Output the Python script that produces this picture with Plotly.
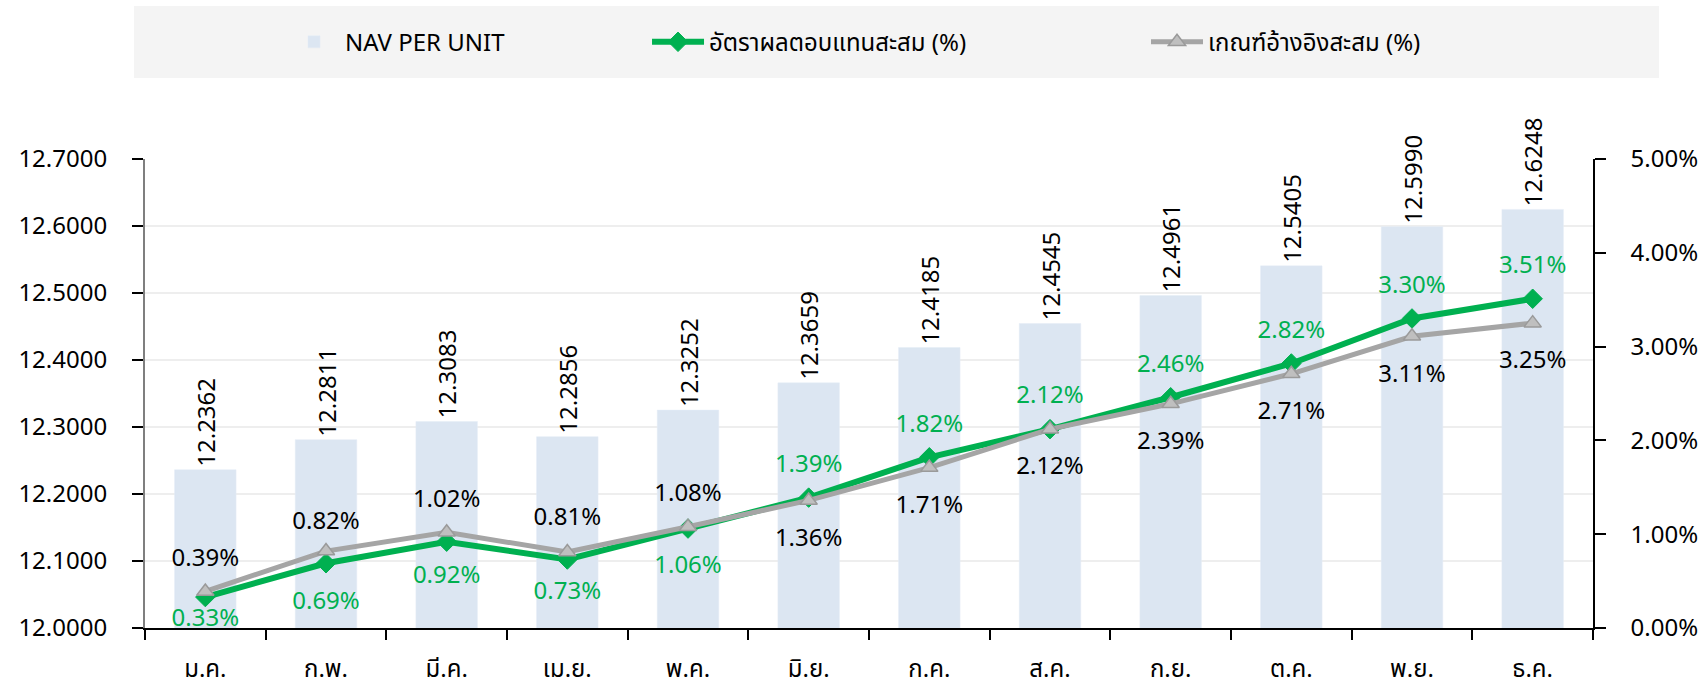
import plotly.graph_objects as go

# ---------------- data ----------------
months = ["ม.ค.", "ก.พ.", "มี.ค.", "เม.ย.", "พ.ค.", "มิ.ย.",
          "ก.ค.", "ส.ค.", "ก.ย.", "ต.ค.", "พ.ย.", "ธ.ค."]
nav_per_unit = [12.2362, 12.2811, 12.3083, 12.2856, 12.3252, 12.3659,
                12.4185, 12.4545, 12.4961, 12.5405, 12.5990, 12.6248]
fund_return = [0.33, 0.69, 0.92, 0.73, 1.06, 1.39, 1.82, 2.12, 2.46, 2.82, 3.30, 3.51]
benchmark_return = [0.39, 0.82, 1.02, 0.81, 1.08, 1.36, 1.71, 2.12, 2.39, 2.71, 3.11, 3.25]

nav_ticks = [12.0, 12.1, 12.2, 12.3, 12.4, 12.5, 12.6, 12.7]
pct_ticks = [0, 1, 2, 3, 4, 5]
pct_tick_labels = [f"{v:.2f}%" for v in pct_ticks]

name_nav = "NAV PER UNIT"
name_fund = "อัตราผลตอบแทนสะสม (%)"
name_bench = "เกณฑ์อ้างอิงสะสม (%)"

# ---------------- styles ----------------
FONT = "Noto Sans, Noto Sans Thai, Loma, sans-serif"
GREEN = "#00b050"
GREY = "#a5a5a5"
BAR = "#dce6f2"
FS = 24

fund_pos = ["bottom center"] * 5 + ["top center"] * 7
bench_pos = ["top center"] * 5 + ["bottom center"] * 7
fund_pad = [16, 42, 36, 32, 40] + [30] * 7
bench_pad = [30, 24, 30, 32, 30] + [42] * 7

fig = go.Figure()

fig.add_trace(go.Bar(
    x=months, y=nav_per_unit, name=name_nav, width=0.51,
    marker=dict(color=BAR),
    texttemplate="%{y:.4f}", textposition="outside", textangle=-90,
    textfont=dict(size=FS, color="black", family=FONT), constraintext="none",
    cliponaxis=False, legend="legend", yaxis="y",
))

fig.add_trace(go.Scatter(
    x=months, y=fund_return, name=name_fund, mode="lines+markers",
    line=dict(color=GREEN, width=6),
    marker=dict(symbol="diamond", size=15, color=GREEN, line=dict(color=GREEN, width=1)),
    yaxis="y2", legend="legend2", cliponaxis=False,
))
fig.add_trace(go.Scatter(
    x=months, y=benchmark_return, name=name_bench, mode="lines+markers",
    line=dict(color=GREY, width=5),
    marker=dict(symbol="triangle-up", size=15, color="#bfbfbf", line=dict(color="#9a9a9a", width=1.5)),
    yaxis="y2", legend="legend3", cliponaxis=False,
))

# label carriers (invisible markers only set the text offset)
fig.add_trace(go.Scatter(
    x=months, y=fund_return, mode="markers+text", showlegend=False, hoverinfo="skip",
    text=[f"{v:.2f}%" for v in fund_return], textposition=fund_pos,
    textfont=dict(size=FS, color=GREEN, family=FONT),
    marker=dict(size=fund_pad, opacity=0), yaxis="y2", cliponaxis=False,
))
fig.add_trace(go.Scatter(
    x=months, y=benchmark_return, mode="markers+text", showlegend=False, hoverinfo="skip",
    text=[f"{v:.2f}%" for v in benchmark_return], textposition=bench_pos,
    textfont=dict(size=FS, color="black", family=FONT),
    marker=dict(size=bench_pad, opacity=0), yaxis="y2", cliponaxis=False,
))

legend_common = dict(orientation="h", yanchor="middle", y=1.249, xanchor="left",
                     bgcolor="rgba(0,0,0,0)", itemwidth=52,
                     font=dict(size=FS, color="black", family=FONT))

fig.update_layout(
    width=1700, height=686,
    margin=dict(l=145, r=107, t=159, b=58, autoexpand=False),
    paper_bgcolor="white", plot_bgcolor="white",
    font=dict(family=FONT, size=FS, color="black"),
    showlegend=True,
    legend=dict(x=0.0953, **legend_common),
    legend2=dict(x=0.3467, **legend_common),
    legend3=dict(x=0.6913, **legend_common),
    xaxis=dict(
        type="category", categoryarray=months, range=[-0.5, 11.5],
        showline=True, linecolor="black", linewidth=1.5,
        ticks="outside", tickson="boundaries", ticklen=10, tickcolor="black", tickwidth=1.5,
        ticklabelstandoff=18, tickfont=dict(size=FS, family=FONT),
        showgrid=False, zeroline=False,
    ),
    xaxis2=dict(
        type="category", categoryarray=months, range=[-0.5, 11.5], overlaying="x",
        ticks="inside", tickson="boundaries", ticklen=10, tickcolor="black", tickwidth=1.5,
        showticklabels=False, showline=False, showgrid=False, zeroline=False,
        anchor="y", side="bottom",
    ),
    yaxis=dict(
        range=[12.0, 12.7], tickvals=nav_ticks, tickformat=".4f",
        showline=True, linecolor="#7f7f7f", linewidth=2,
        ticks="outside", ticklen=11, tickcolor="black", tickwidth=1.5,
        ticklabelstandoff=20, tickfont=dict(size=FS, family=FONT),
        showgrid=True, gridcolor="#eeeeee", gridwidth=2, zeroline=False,
    ),
    yaxis3=dict(
        range=[12.0, 12.7], tickvals=nav_ticks, overlaying="y", side="left", anchor="x",
        ticks="inside", ticklen=11, tickcolor="black", tickwidth=1.5,
        showticklabels=False, showline=False, showgrid=False, zeroline=False,
    ),
    yaxis2=dict(
        range=[0, 5], tickvals=pct_ticks, ticktext=pct_tick_labels,
        overlaying="y", side="right", anchor="x",
        showline=True, linecolor="black", linewidth=1.5,
        ticks="outside", ticklen=11, tickcolor="black", tickwidth=1.5,
        ticklabelstandoff=20, tickfont=dict(size=FS, family=FONT),
        showgrid=False, zeroline=False,
    ),
    yaxis4=dict(
        range=[0, 5], tickvals=pct_ticks, overlaying="y", side="right", anchor="x",
        ticks="inside", ticklen=11, tickcolor="black", tickwidth=1.5,
        showticklabels=False, showline=False, showgrid=False, zeroline=False,
    ),
    shapes=[dict(type="rect", xref="paper", yref="paper", layer="below",
                 x0=-0.0076, x1=1.0456, y0=1.1727, y1=1.326,
                 fillcolor="#f4f4f4", line=dict(width=0))],
)

fig.write_html(
    "out.html",
    config={"displayModeBar": False},
    post_script="document.body.style.margin='0';document.body.style.overflow='hidden';",
)
